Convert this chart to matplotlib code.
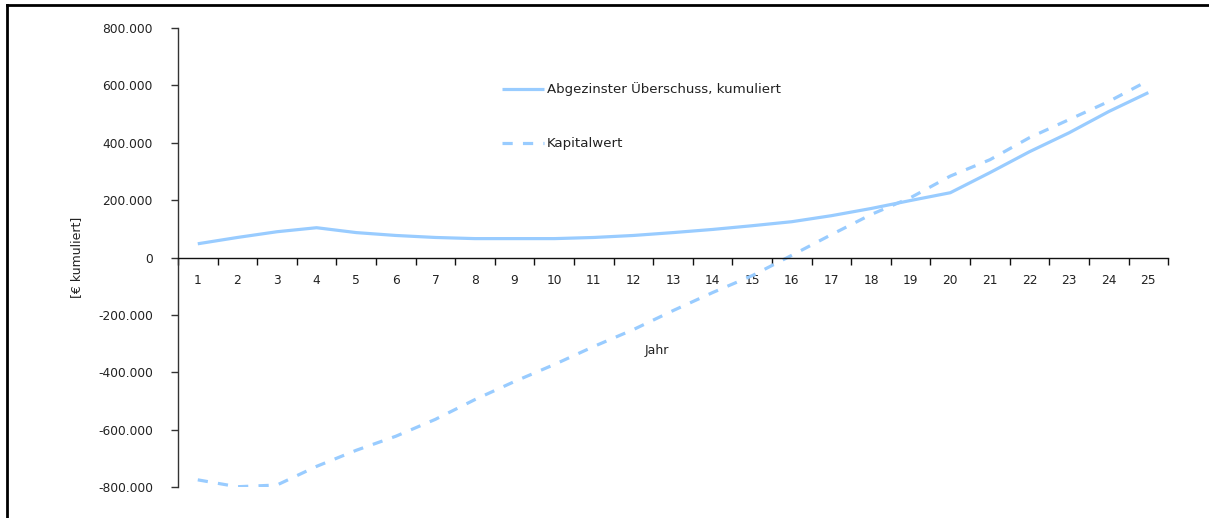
import matplotlib
matplotlib.use("Agg")
import matplotlib.pyplot as plt
from matplotlib.lines import Line2D
from matplotlib.ticker import FuncFormatter, FixedLocator

plt.rcParams['font.family'] = ['DejaVu Sans']

years = list(range(1, 26))
ueberschuss = [48000, 70000, 90000, 104000, 87000, 77000, 70000, 66000, 66000, 66000,
               70000, 77000, 87000, 98000, 111000, 125000, 146000, 171000, 199000, 226000,
               296000, 369000, 435000, 509000, 575000]
kapitalwert = [-775000, -799000, -793000, -728000, -672000, -623000, -564000, -495000, -432000, -373000,
               -310000, -251000, -185000, -122000, -63000, 8000, 80000, 150000, 209000, 284000,
               341000, 418000, 481000, 544000, 617000]
yticks = [-800000, -600000, -400000, -200000, 0, 200000, 400000, 600000, 800000]
label_solid = "Abgezinster Überschuss, kumuliert"
label_dash = "Kapitalwert"
ylabel = "[€ kumuliert]"
xlabel = "Jahr"

color = "#99CCFF"
tc = "#222222"

fig = plt.figure(figsize=(12.09, 5.18), dpi=100)
ax = fig.add_axes([0.1472, 0.0598, 0.819, 0.886])

ax.plot(years, ueberschuss, color=color, lw=2.3, solid_capstyle='butt', label=label_solid)
ax.plot(years, kapitalwert, color=color, lw=2.3, dashes=(3.2, 3.2), dash_capstyle='butt', label=label_dash)

ax.set_xlim(0.5, 25.5)
ax.set_ylim(-800000, 800000)

for s in ['top', 'right']:
    ax.spines[s].set_visible(False)
ax.spines['bottom'].set_position(('data', 0))
ax.spines['left'].set_color('#333333')
ax.spines['bottom'].set_color('#111111')
ax.spines['left'].set_linewidth(1.0)
ax.spines['bottom'].set_linewidth(1.0)

ax.set_yticks(yticks)
ax.yaxis.set_major_formatter(FuncFormatter(lambda v, p: f"{int(v):,}".replace(",", ".")))
ax.tick_params(axis='y', direction='out', length=5, width=1, pad=13, labelsize=8.8, labelcolor=tc, color='#333333')

ax.set_xticks(years)
ax.set_xticklabels([str(y) for y in years])
ax.xaxis.set_minor_locator(FixedLocator([y + 0.5 for y in range(0, 26)]))
ax.tick_params(axis='x', which='major', length=0, pad=12, labelsize=8.8, labelcolor=tc)
ax.tick_params(axis='x', which='minor', direction='out', length=5, width=1, color='#111111')

ax.set_ylabel(ylabel, fontsize=9, color=tc)
ax.yaxis.set_label_coords(-0.096, 0.5)

ax.text(0.484, 0.298, xlabel, transform=ax.transAxes, fontsize=9, color=tc, ha='center', va='center')

leg = ax.legend(loc='upper left', bbox_to_anchor=(0.315, 0.908), frameon=False, fontsize=9.6,
                handlelength=3.15, handletextpad=0.22, labelspacing=3.08, labelcolor=tc)

fig.add_artist(Line2D([7 / 1209, 1.0], [1 - 5 / 518, 1 - 5 / 518], transform=fig.transFigure, color='black', lw=2))
fig.add_artist(Line2D([7 / 1209, 7 / 1209], [0, 1 - 5 / 518], transform=fig.transFigure, color='black', lw=2))

fig.savefig("out.png", dpi=100)
